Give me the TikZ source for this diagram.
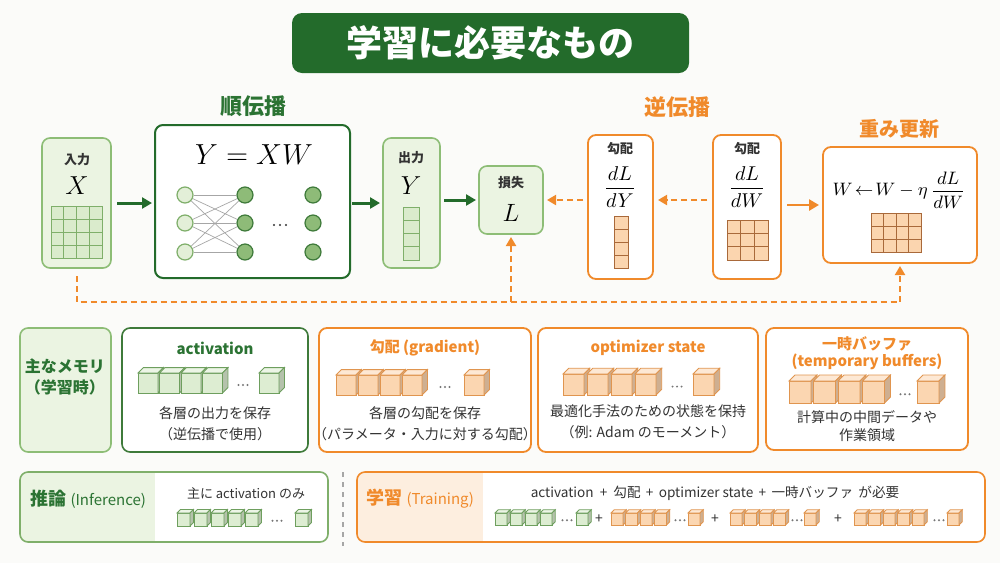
\RequirePackage{fix-cm}
\documentclass[tikz,border=0pt]{standalone}
\usepackage{fontspec}
\setmainfont{Noto Sans CJK JP}
\usetikzlibrary{arrows.meta,fit}

\definecolor{bg}{HTML}{FBFBF9}
\definecolor{dgreen}{HTML}{236B2B}
\definecolor{tgreen}{HTML}{2B7333}
\definecolor{lgreenb}{HTML}{8DBD76}
\definecolor{lgreenf}{HTML}{EBF4E2}
\definecolor{cellgf}{HTML}{DAEBCC}
\definecolor{cellgb}{HTML}{7FAF6A}
\definecolor{ninf}{HTML}{E3EFD8}
\definecolor{cgreenf}{HTML}{DDEDD2}
\definecolor{cgreenb}{HTML}{6E9F5E}
\definecolor{nmidf}{HTML}{8EBB78}
\definecolor{nmidb}{HTML}{3E7A3A}
\definecolor{orng}{HTML}{F08A2B}
\definecolor{lorngf}{HTML}{FDEEDF}
\definecolor{corngf}{HTML}{FBD6B1}
\definecolor{corngb}{HTML}{E0954F}
\definecolor{cellof}{HTML}{FBD5AF}
\definecolor{cellob}{HTML}{A9693A}
\definecolor{txt}{HTML}{333333}
\definecolor{dotc}{HTML}{777777}

\newcommand\fs[2]{\fontsize{#1}{#2}\selectfont}

\tikzset{
  lbox/.style={draw=lgreenb, fill=lgreenf, line width=0.8pt, rounded corners=4pt, inner sep=0pt, outer sep=0pt},
  wgbox/.style={draw=dgreen, fill=white, line width=1pt, rounded corners=4pt, inner sep=0pt, outer sep=0pt},
  mgbox/.style={draw=nmidb, fill=white, line width=0.8pt, rounded corners=4pt, inner sep=0pt, outer sep=0pt},
  obox/.style={draw=orng, fill=white, line width=0.9pt, rounded corners=4pt, inner sep=0pt, outer sep=0pt},
  frame/.style={line width=0.8pt, rounded corners=4pt, inner sep=0pt, outer sep=0pt},
  garrow/.style={draw=dgreen, line width=1.5pt, -{Triangle[length=5pt,width=5.5pt]}},
  oarrow/.style={draw=orng, line width=1.3pt, -{Triangle[length=5pt,width=5.5pt]}},
  odash/.style={draw=orng, line width=1pt, dash pattern=on 3pt off 2pt, -{Triangle[length=4.5pt,width=5pt]}},
  lbl/.style={font=\fs{6.5}{8}\bfseries, text=txt, inner sep=0pt},
  sect/.style={font=\fs{11}{13}\bfseries, inner sep=0pt},
  mtitle/.style={font=\fs{7.5}{8.5}\bfseries, inner sep=0pt, align=center},
  body/.style={font=\fs{7}{10.5}\selectfont, text=txt, inner sep=0pt, align=center},
  cellg/.style={draw=cellgb, fill=cellgf, line width=0.4pt},
  cello/.style={draw=cellob, fill=cellof, line width=0.4pt},
  nin/.style={circle, minimum size=8pt, inner sep=0pt, draw=cellgb, fill=ninf, line width=0.6pt},
  nmid/.style={circle, minimum size=8pt, inner sep=0pt, draw=nmidb, fill=nmidf, line width=0.6pt},
  nnline/.style={draw=gray!70, line width=0.35pt},
  cubeline/.style={line width=0.4pt},
}

% x, y-bottom, size, fill, draw
\newcommand\mycube[5]{%
  \pgfmathsetmacro\cx{#1}\pgfmathsetmacro\cy{#2}%
  \pgfmathsetmacro\cs{#3}\pgfmathsetmacro\cd{0.27*#3}%
  \pgfmathsetmacro\cyt{\cy-\cs}\pgfmathsetmacro\cxr{\cx+\cs}%
  \filldraw[cubeline,draw=#5,fill=#4] (\cx,\cy) rectangle (\cxr,\cyt);
  \filldraw[cubeline,draw=#5,fill=#4!55!white] (\cx,\cyt) -- ++(\cd,-\cd) -- ++(\cs,0) -- ++(-\cd,\cd) -- cycle;
  \filldraw[cubeline,draw=#5,fill=#4!82!black] (\cxr,\cy) -- ++(\cd,-\cd) -- ++(0,-\cs) -- ++(-\cd,\cd) -- cycle;
}
% x0, yb, s, spacing, n, dotx, singlex, fill, draw
\newcommand\cubegroup[9]{%
  \foreach \k in {1,...,#5}{\mycube{#1+(\k-1)*#4}{#2}{#3}{#8}{#9}}
  \foreach \m in {-1,0,1}{\fill[dotc] ({#6+\m*4.5},{#2-0.4*#3}) circle (0.55pt);}
  \mycube{#7}{#2}{#3}{#8}{#9}
}
% x0,y0,w,h,nx,ny,style
\newcommand\cellgrid[7]{%
  \foreach \i in {1,...,#5}{\foreach \j in {1,...,#6}{%
    \draw[#7] ({#1+(\i-1)*#3},{#2+(\j-1)*#4}) rectangle ++(#3,#4);}}%
}

\begin{document}
\begin{tikzpicture}[x=0.5pt,y=-0.5pt]
\useasboundingbox (0,0) rectangle (1000,563);
\fill[bg] (0,0) rectangle (1000,563);

% ---------- title
\node[fit={(292,13) (689,73)}, fill=dgreen, rounded corners=5pt, inner sep=0pt] (title) {};
\node[font=\fs{18}{20}\bfseries, text=white] (titletext) at (title.center) {学習に必要なもの};

% ---------- section labels
\node[sect, text=tgreen] (fwdlbl) at (253,106) {順伝播};
\node[sect, text=orng] (bwdlbl) at (677,107) {逆伝播};
\node[sect, font=\fs{10}{12}\bfseries, text=orng] (updlbl) at (899,129) {重み更新};

% ---------- input X
\node[lbox, fit={(42,138) (111,268)}] (in) {};
\node[lbl] (inlbl) at (77,160) {入力};
\node[inner sep=0pt, font=\fs{13}{15}] (inX) at (77,186) {$X$};
\cellgrid{51}{206}{12.75}{13}{4}{4}{cellg}

% ---------- forward box
\node[wgbox, fit={(155,125) (350,278)}] (fwd) {};
\node[inner sep=0pt, font=\fs{14.5}{17}] (fwdeq) at (254,155) {$Y = XW$};
\foreach \r/\y in {1/195,2/223,3/252}{
  \node[nin] (na\r) at (185,\y) {};
  \node[nmid] (nb\r) at (245,\y) {};
  \node[nmid] (nc\r) at (313,\y) {};
}
\foreach \i in {1,2,3}{\foreach \j in {1,2,3}{\draw[nnline] (na\i) -- (nb\j);}}
\foreach \m in {-1,0,1}{\fill[txt] ({280+\m*6},225) circle (0.6pt);}

% ---------- output Y
\node[lbox, fit={(383,138) (440,268)}] (out) {};
\node[lbl] (outlbl) at (411,158) {出力};
\node[inner sep=0pt, font=\fs{13}{15}] (outY) at (411,186) {$Y$};
\cellgrid{403}{207}{16}{13.25}{1}{4}{cellg}

% ---------- loss
\node[lbox, fit={(479,166) (543,234)}] (loss) {};
\node[lbl] (losslbl) at (511,183) {損失};
\node[inner sep=0pt, font=\fs{12.5}{15}] (lossL) at (511,213) {$L$};

% ---------- dL/dY
\node[obox, fit={(588,135) (653,279)}] (dY) {};
\node[lbl] (dYlbl) at (620,149) {勾配};
\node[inner sep=0pt, font=\fs{10}{12}] (dYfrac) at (620,187) {$\displaystyle\frac{dL}{dY}$};
\cellgrid{614}{216}{14}{13}{1}{4}{cello}

% ---------- dL/dW
\node[obox, fit={(713,135) (781,279)}] (dW) {};
\node[lbl] (dWlbl) at (747,149) {勾配};
\node[inner sep=0pt, font=\fs{10}{12}] (dWfrac) at (747,187) {$\displaystyle\frac{dL}{dW}$};
\cellgrid{727}{220}{13.7}{13.3}{3}{3}{cello}

% ---------- update
\node[obox, fit={(823,147) (977,263)}] (upd) {};
\node[inner sep=0pt, font=\fs{9}{11}] (updeq) at (899,190) {$W\!\leftarrow\! W - \eta\,\displaystyle\frac{dL}{dW}$};
\cellgrid{871}{213}{12.5}{13}{4}{3}{cello}

% ---------- arrows
\draw[garrow, shorten <=3pt, shorten >=1.5pt] (in.east) -- (fwd.west |- in.east);
\draw[garrow, shorten <=1pt, shorten >=1.5pt] (fwd.east |- out.west) -- (out.west);
\draw[garrow, shorten <=2pt, shorten >=1.5pt] (out.east |- loss.west) -- (loss.west);
\draw[odash, shorten <=2.5pt, shorten >=2pt] (dY.west |- loss.east) -- (loss.east);
\draw[odash, shorten <=3pt, shorten >=2.5pt] (dW.west |- loss.east) -- (dY.east |- loss.east);
\draw[oarrow, shorten <=3pt, shorten >=2pt] (dW.east |- upd.west) -- (upd.west);
\coordinate (fb) at (0,302);
\draw[odash, shorten <=4pt, shorten >=1.5pt] (in.south) -- (in.south |- fb) -| (upd.south);
\draw[odash, shorten >=1.5pt] (loss.south |- fb) -- (loss.south);

% ---------- memory row
\node[lbox, fit={(20,328) (111,452)}] (mem) {};
\node[mtitle, font=\fs{8}{10.5}\bfseries, text=tgreen] (memtxt) at (65,377) {主なメモリ\\（学習時）};

\node[mgbox, fit={(122,328) (308,452)}] (act) {};
\node[mtitle, text=tgreen] (acttitle) at (215,348) {activation};
\cubegroup{138}{393}{20}{21.5}{4}{243}{259}{cgreenf}{cgreenb}
\node[body] (acttxt) at (215,423.5) {各層の出力を保存\\（逆伝播で使用）};

\node[obox, fit={(319,328) (531,452)}] (grad) {};
\node[mtitle, text=orng] (gradtitle) at (425,348) {勾配 (gradient)};
\cubegroup{336}{395}{20}{22}{4}{445}{464}{corngf}{corngb}
\node[body] (gradtxt) at (425,423.5) {各層の勾配を保存\\（パラメータ・入力に対する勾配）};

\node[obox, fit={(538,328) (758,452)}] (opt) {};
\node[mtitle, text=orng] (opttitle) at (648,348) {optimizer state};
\cubegroup{563}{395}{21}{24}{4}{677}{693}{corngf}{corngb}
\node[body] (opttxt) at (648,422) {最適化手法のための状態を保持\\（例: Adam のモーメント）};

\node[obox, fit={(766,328) (968,450)}] (buf) {};
\node[mtitle, font=\fs{7.5}{8.5}\bfseries, text=orng] (buftitle) at (867,353) {一時バッファ\\(temporary buffers)};
\cubegroup{789}{403}{22}{24.5}{4}{905}{917}{corngf}{corngb}
\node[body, font=\fs{7}{9}] (buftxt) at (867,426) {計算中の中間データや\\作業領域};

% ---------- bottom: inference
\begin{scope}
  \clip[rounded corners=4pt] (20,472) rectangle (328,542);
  \fill[white] (20,472) rectangle (328,542);
  \fill[lgreenf] (20,472) rectangle (155,542);
\end{scope}
\node[frame, draw=cellgb, fit={(20,472) (328,542)}] (inf) {};
\node[inner sep=0pt, text=tgreen] (inftitle) at (88,499) {{\fs{9}{11}\bfseries 推論} {\fs{7.5}{9}(Inference)}};
\node[inner sep=0pt, font=\fs{6.5}{8}, text=txt] (inftxt) at (246,493) {主に activation のみ};
\cubegroup{177}{526}{13}{17}{5}{277}{295}{cgreenf}{cgreenb}

% separator
\draw[gray!70, line width=0.6pt, dash pattern=on 2.5pt off 2.5pt] (343,472) -- (343,546);

% ---------- bottom: training
\begin{scope}
  \clip[rounded corners=4pt] (357,472) rectangle (985,542);
  \fill[white] (357,472) rectangle (985,542);
  \fill[lorngf] (357,472) rectangle (483,542);
\end{scope}
\node[frame, draw=orng, fit={(357,472) (985,542)}] (train) {};
\node[inner sep=0pt, text=orng] (traintitle) at (420,499) {{\fs{9}{11}\bfseries 学習} {\fs{7.5}{9}(Training)}};
\node[inner sep=0pt, font=\fs{6.8}{8}, text=txt] (traintxt) at (715,493) {activation \ + \ 勾配 \,+\, optimizer state \,+\, 一時バッファ \,が必要};
\cubegroup{495}{525}{12}{15}{4}{567}{576}{cgreenf}{cgreenb}
\node[inner sep=0pt, font=\fs{7}{8}, text=txt] (p1) at (599,519) {+};
\cubegroup{611}{525}{12}{14.5}{4}{680}{688}{corngf}{corngb}
\node[inner sep=0pt, font=\fs{7}{8}, text=txt] (p2) at (715,519) {+};
\cubegroup{730}{525}{12}{14.5}{4}{797}{804}{corngf}{corngb}
\node[inner sep=0pt, font=\fs{7}{8}, text=txt] (p3) at (838,519) {+};
\cubegroup{854}{525}{12}{14.5}{5}{939}{947}{corngf}{corngb}
\end{tikzpicture}
\end{document}
